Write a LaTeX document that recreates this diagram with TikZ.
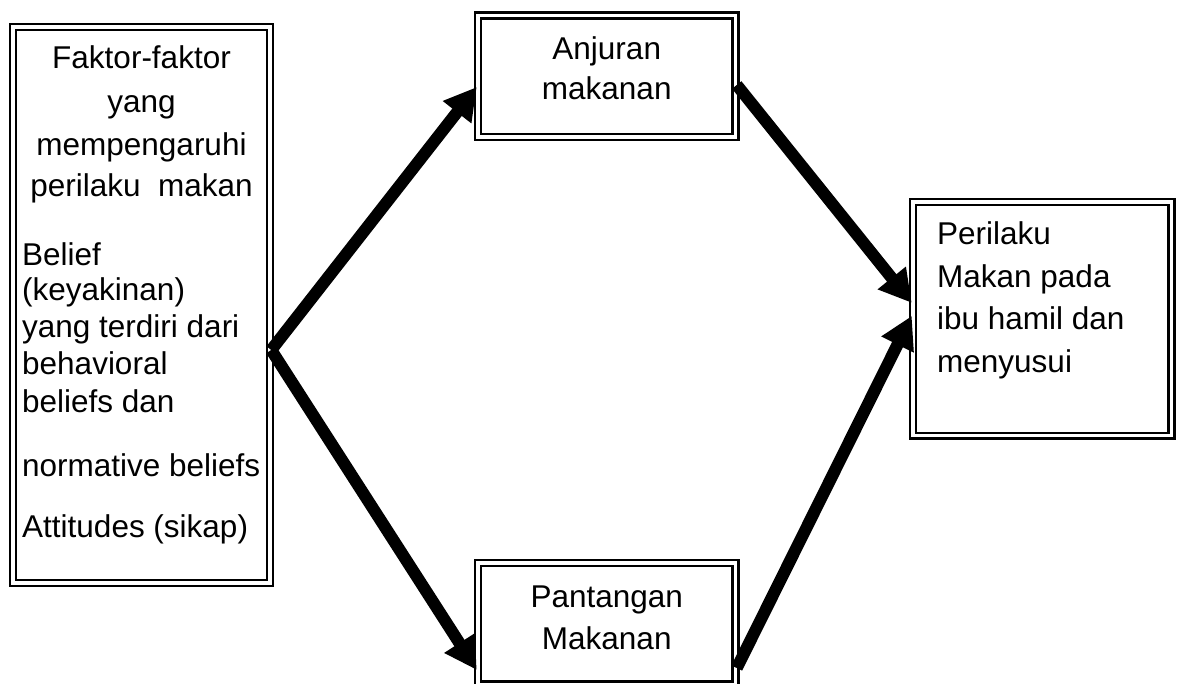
\documentclass[tikz,border=0pt]{standalone}
\usepackage{fontspec}
\setmainfont{Liberation Sans}
\usetikzlibrary{arrows.meta}
\begin{document}
\begin{tikzpicture}[x=1pt,y=-1pt,
  dbox/.style={draw, double, line width=2.5pt, double distance=3.2pt, inner sep=0pt, fill=white},
  txt/.style={inner sep=0pt, font=\fontsize{31.5}{36}\selectfont},
  conn/.style={line width=12pt, -{Triangle[length=32pt,width=34pt]}}]
\useasboundingbox[fill=white] (0,0) rectangle (1179,684);

% boxes
\node[dbox, minimum width=257pt, minimum height=556pt] (L) at (141.5,305) {};
\node[dbox, minimum width=257.5pt, minimum height=121.5pt] (A) at (606.75,76.3) {};
\node[dbox, minimum width=257.5pt, minimum height=121.5pt] (Pt) at (606.75,623.8) {};
\node[dbox, minimum width=258.5pt, minimum height=233.8pt] (P) at (1042.25,318.9) {};

% left box text
\node[txt, anchor=base] (l1) at (141.5,69) {Faktor-faktor};
\node[txt, anchor=base] (l2) at (141.5,113) {yang};
\node[txt, anchor=base] (l3) at (141.5,156) {mempengaruhi};
\node[txt, anchor=base] (l4) at (141.5,197) {perilaku\ \ makan};
\node[txt, anchor=base west] (l5) at (22,266) {Belief};
\node[txt, anchor=base west] (l6) at (22,301) {(keyakinan)};
\node[txt, anchor=base west] (l7) at (22,338) {yang terdiri dari};
\node[txt, anchor=base west] (l8) at (22,375) {behavioral};
\node[txt, anchor=base west] (l9) at (22,413) {beliefs dan};
\node[txt, anchor=base west] (l10) at (22,477) {normative beliefs};
\node[txt, anchor=base west] (l11) at (22,538) {Attitudes (sikap)};

% Anjuran
\node[txt, anchor=base] (a1) at (606.75,60) {Anjuran};
\node[txt, anchor=base] (a2) at (606.75,100) {makanan};

% Pantangan
\node[txt, anchor=base] (p1) at (606.75,607) {Pantangan};
\node[txt, anchor=base] (p2) at (606.75,649.5) {Makanan};

% Perilaku
\node[txt, anchor=base west] (r1) at (937,245) {Perilaku};
\node[txt, anchor=base west] (r2) at (937,287.5) {Makan pada};
\node[txt, anchor=base west] (r3) at (937,330) {ibu hamil dan};
\node[txt, anchor=base west] (r4) at (937,372.5) {menyusui};

% connector end points
\coordinate (Lj) at ([yshift=-45pt]L.east);
\coordinate (Ain) at ([yshift=-10.7pt]A.west);
\coordinate (Aout) at ([yshift=-8.7pt]A.east);
\coordinate (Ptin) at ([yshift=-46.2pt]Pt.west);
\coordinate (Ptout) at ([yshift=-44.2pt]Pt.east);
\coordinate (Pin1) at ([yshift=16pt]P.west);
\coordinate (Pin2) at ([yshift=3pt]P.west);

\draw[conn] (Lj) -- (Ain);
\draw[conn] (Lj) -- (Ptin);
\draw[conn] (Aout) -- (Pin1);
\draw[conn] (Ptout) -- (Pin2);
\end{tikzpicture}
\end{document}
